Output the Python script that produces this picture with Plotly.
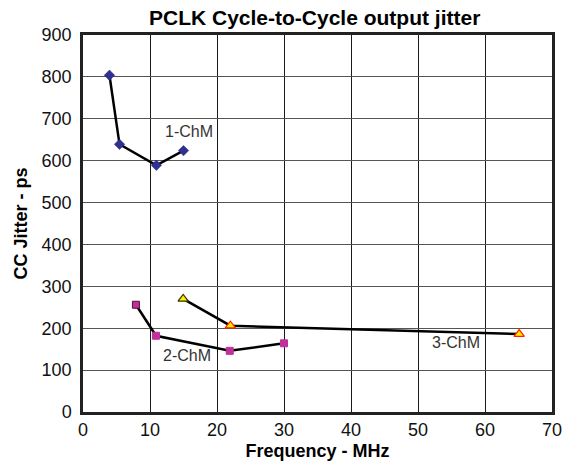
import plotly.graph_objects as go

freq_1 = [3.95, 5.45, 10.95, 15.0]
jit_1 = [804, 639, 589, 624]
freq_2 = [7.9, 10.9, 21.9, 30.0]
jit_2 = [256, 182, 146, 164]
freq_3 = [14.95, 22.0, 65.1]
jit_3 = [270, 206, 186]

x_ticks = [0, 10, 20, 30, 40, 50, 60, 70]
y_ticks = [0, 100, 200, 300, 400, 500, 600, 700, 800, 900]

FONT = "Liberation Sans, Arial, sans-serif"

fig = go.Figure()
fig.add_trace(go.Scatter(x=freq_1, y=jit_1, mode="lines+markers", name="1-ChM",
                         line=dict(color="black", width=2.5),
                         marker=dict(symbol="diamond", size=8, color="#2E3192",
                                     line=dict(color="#1F2270", width=0.5))))
fig.add_trace(go.Scatter(x=freq_2, y=jit_2, mode="lines+markers", name="2-ChM",
                         line=dict(color="black", width=2.5),
                         marker=dict(symbol="square", size=7, color="#C0309A",
                                     line=dict(color=["#551133", "#C0309A", "#C0309A", "#C0309A"],
                                               width=1))))
fig.add_trace(go.Scatter(x=freq_3, y=jit_3, mode="lines+markers", name="3-ChM",
                         line=dict(color="black", width=2.5),
                         marker=dict(symbol="triangle-up", size=9, color="#FFEE00",
                                     line=dict(color=["#333300", "#FF2200", "#FF2200"], width=1.2))))

annots = [("1-ChM", 15.85, 670), ("2-ChM", 15.5, 134), ("3-ChM", 55.6, 167)]
for txt, ax, ay in annots:
    fig.add_annotation(x=ax, y=ay, text=txt, showarrow=False,
                       font=dict(size=16, color="#333333", family=FONT))

fig.update_layout(
    width=569, height=466,
    margin=dict(l=83, r=17, t=35, b=54, autoexpand=False),
    paper_bgcolor="white", plot_bgcolor="white",
    showlegend=False,
    font=dict(family=FONT, color="black"),
    title=dict(text="<b>PCLK Cycle-to-Cycle output jitter</b>", x=0.553, xanchor="center",
               y=1 - 18 / 466, yref="container", yanchor="middle",
               font=dict(size=21, color="black")),
    xaxis=dict(range=[0, 70], tickvals=x_ticks, showgrid=True, gridcolor="#1a1a1a", gridwidth=1,
               showline=True, linecolor="#222222", linewidth=2.5, mirror=True, zeroline=False,
               ticks="", tickfont=dict(size=18, color="#111111"), automargin=False,
               title=dict(text="<b>Frequency - MHz</b>", font=dict(size=18), standoff=6)),
    yaxis=dict(range=[0, 900], tickvals=y_ticks, showgrid=True, gridcolor="#555555", gridwidth=1,
               showline=True, linecolor="#222222", linewidth=2.5, mirror=True, zeroline=False,
               ticks="", tickfont=dict(size=18, color="#111111"), automargin=False,
               ticklabelstandoff=5,
               title=dict(text="<b>CC Jitter - ps</b>", font=dict(size=18), standoff=10)),
)

# remove the page's default body margin so the figure fills the window exactly
fig.write_html("out.html", config={"displayModeBar": False},
               post_script="document.body.style.margin='0px';")
